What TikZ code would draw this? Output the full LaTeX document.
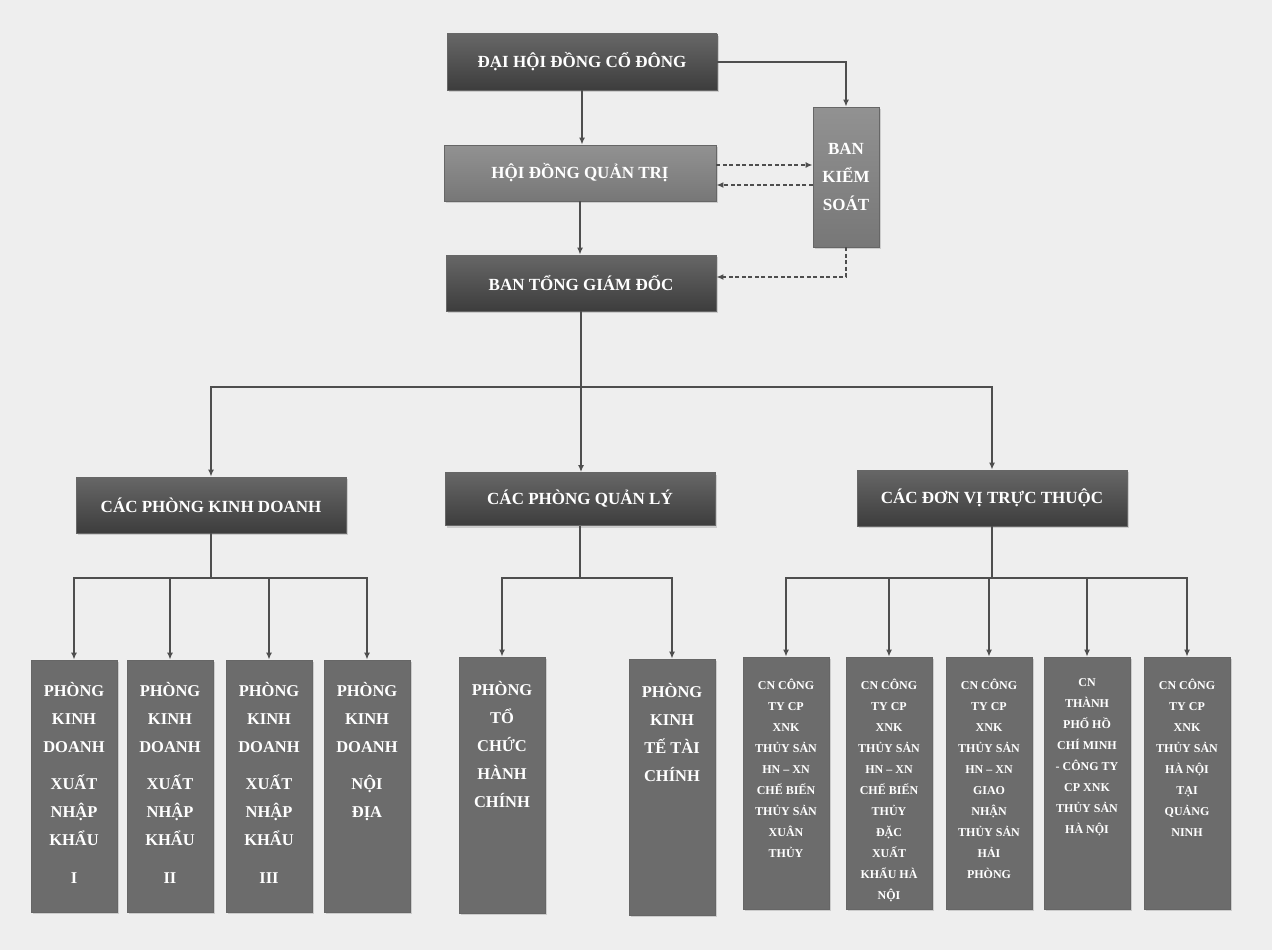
\documentclass[tikz,border=0pt]{standalone}
\usepackage{fontspec}
\setmainfont{Liberation Serif}
\usetikzlibrary{arrows.meta,shadows}

\definecolor{paper}{HTML}{EEEEEE}
\definecolor{boxdark}{HTML}{4C4C4C}
\definecolor{boxmid}{HTML}{6C6C6C}
\definecolor{boxlight}{HTML}{8C8C8C}
\definecolor{wirecol}{HTML}{4E4E4E}

% text of a tall unit box, set from the top
\newcommand{\unitlines}[1]{\parbox[c][252pt][t]{84pt}{\centering\vspace*{22pt}#1}}

\tikzset{
  boxbase/.style={draw=black!60, line width=0.8pt, text=white, inner sep=0pt,
    drop shadow={shadow xshift=2pt, shadow yshift=-2pt, opacity=0.3}},
  headbox/.style={boxbase, top color=boxdark!85, bottom color=boxdark!80!black,
    minimum width=270pt, minimum height=56pt, font=\bfseries\fontsize{17}{20}\selectfont},
  boardbox/.style={boxbase, top color=boxlight!95, bottom color=boxlight!85!black,
    minimum width=272pt, minimum height=56pt, font=\bfseries\fontsize{17}{28}\selectfont},
  unitbox/.style={boxbase, fill=boxmid, minimum width=86pt, minimum height=252pt,
    font=\bfseries\fontsize{16.5}{28}\selectfont},
  smallunit/.style={unitbox, font=\bfseries\fontsize{12}{21}\selectfont},
  wire/.style={draw=wirecol, line width=1.6pt, -{Latex[length=7pt,width=6pt]}},
  dashwire/.style={wire, dash pattern=on 4pt off 2.5pt}
}

\begin{document}
\begin{tikzpicture}[x=1pt, y=-1pt]
  \fill[paper] (0,0) rectangle (1272,950);
  \useasboundingbox (0,0) rectangle (1272,950);

  % Top of the company
  \node[headbox] (dhd) at (582,62) {ĐẠI HỘI ĐỒNG CỔ ĐÔNG};
  \node[boardbox] (hdqt) at (580,173) {HỘI ĐỒNG QUẢN TRỊ};
  \node[headbox] (btgd) at (581,283) {BAN TỔNG GIÁM ĐỐC};
  \node[boardbox, minimum width=66pt, minimum height=140pt, align=center] (bks) at (846,177) {BAN\\KIỂM\\SOÁT};

  \draw[wire] (dhd.south) -- (dhd.south |- hdqt.north);
  \draw[wire] (hdqt.south) -- (hdqt.south |- btgd.north);
  \draw[wire] (dhd.east) -| (bks.north);
  \draw[dashwire] ([yshift=8pt]hdqt.east) -- ([yshift=8pt]hdqt.east -| bks.west);
  \draw[dashwire] ([yshift=-12pt]hdqt.east -| bks.west) -- ([yshift=-12pt]hdqt.east);
  \draw[dashwire] (bks.south) |- ([yshift=6pt]btgd.east);

  % Three groups
  \coordinate (bus) at (581,387);
  \node[headbox] (cpkd) at (211,505) {CÁC PHÒNG KINH DOANH};
  \node[headbox, minimum height=53pt] (cpql) at (580,499) {CÁC PHÒNG QUẢN LÝ};
  \node[headbox] (cdv) at (992,498) {CÁC ĐƠN VỊ TRỰC THUỘC};

  \draw[wire] (btgd.south) -- (bus) -| (cpkd.north);
  \draw[wire] (bus) -| (cdv.north);
  \draw[wire] (bus) -- (bus |- cpql.north);

  % Business departments
  \coordinate (kbus) at (0,578);
  \node[unitbox] (kd1) at (74,786) {\unitlines{PHÒNG\\KINH\\DOANH\\[9pt]XUẤT\\NHẬP\\KHẨU\\[10pt]I}};
  \node[unitbox] (kd2) at (170,786) {\unitlines{PHÒNG\\KINH\\DOANH\\[9pt]XUẤT\\NHẬP\\KHẨU\\[10pt]II}};
  \node[unitbox] (kd3) at (269,786) {\unitlines{PHÒNG\\KINH\\DOANH\\[9pt]XUẤT\\NHẬP\\KHẨU\\[10pt]III}};
  \node[unitbox] (kd4) at (367,786) {\unitlines{PHÒNG\\KINH\\DOANH\\[9pt]NỘI\\ĐỊA}};
  \foreach \u in {kd1,kd2,kd3,kd4}
    \draw[wire] (cpkd.south) -- (cpkd.south |- kbus) -| (\u.north);

  % Management departments
  \node[unitbox, minimum height=256pt] (ptc) at (502,785) {\unitlines{PHÒNG\\TỔ\\CHỨC\\HÀNH\\CHÍNH}};
  \node[unitbox, minimum height=256pt] (pkt) at (672,787) {\unitlines{PHÒNG\\KINH\\TẾ TÀI\\CHÍNH}};
  \foreach \u in {ptc,pkt}
    \draw[wire] (cpql.south) -- (cpql.south |- kbus) -| (\u.north);

  % Branches
  \node[smallunit] (cn1) at (786,783) {\unitlines{CN CÔNG\\TY CP\\XNK\\THỦY SẢN\\HN – XN\\CHẾ BIẾN\\THỦY SẢN\\XUÂN\\THỦY}};
  \node[smallunit] (cn2) at (889,783) {\unitlines{CN CÔNG\\TY CP\\XNK\\THỦY SẢN\\HN – XN\\CHẾ BIẾN\\THỦY\\ĐẶC\\XUẤT\\KHẨU HÀ\\NỘI}};
  \node[smallunit] (cn3) at (989,783) {\unitlines{CN CÔNG\\TY CP\\XNK\\THỦY SẢN\\HN – XN\\GIAO\\NHẬN\\THỦY SẢN\\HẢI\\PHÒNG}};
  \node[smallunit] (cn4) at (1087,783) {\unitlines{CN\\THÀNH\\PHỐ HỒ\\CHÍ MINH\\- CÔNG TY\\CP XNK\\THỦY SẢN\\HÀ NỘI}};
  \node[smallunit] (cn5) at (1187,783) {\unitlines{CN CÔNG\\TY CP\\XNK\\THỦY SẢN\\HÀ NỘI\\TẠI\\QUẢNG\\NINH}};
  \foreach \u in {cn1,cn2,cn3,cn4,cn5}
    \draw[wire] (cdv.south) -- (cdv.south |- kbus) -| (\u.north);
\end{tikzpicture}
\end{document}
